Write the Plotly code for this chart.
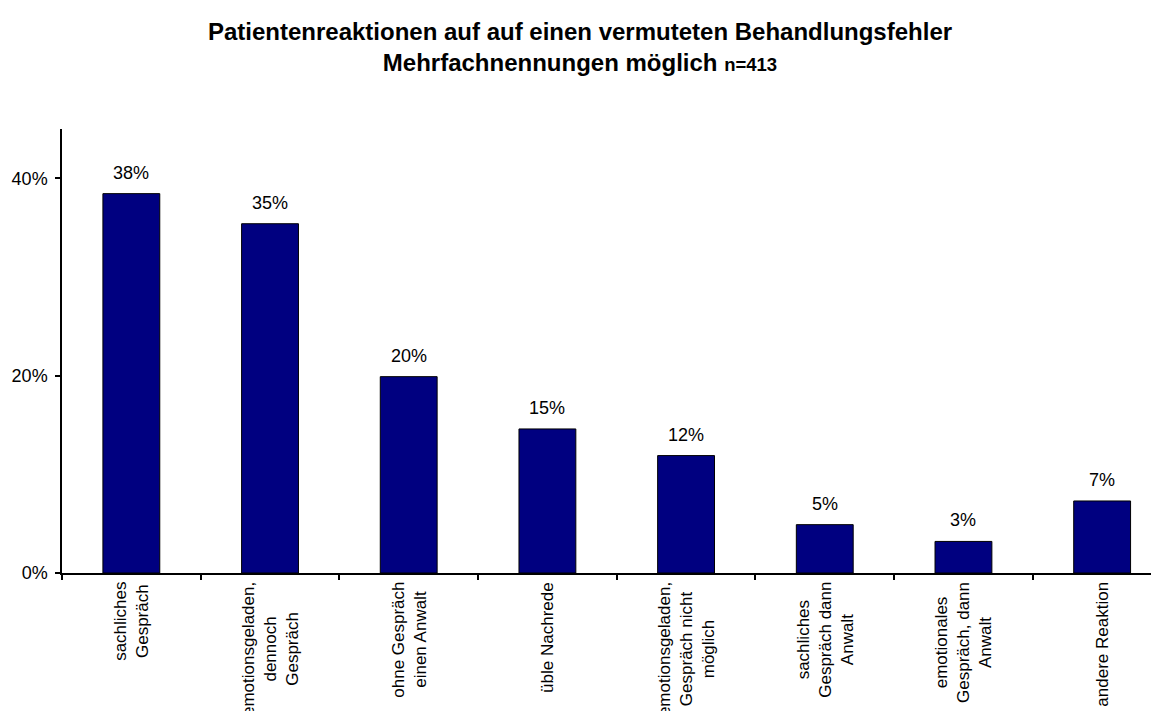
import plotly.graph_objects as go

categories = [
    "sachliches<br>Gespräch",
    "emotionsgeladen,<br>dennoch<br>Gespräch",
    "ohne Gespräch<br>einen Anwalt",
    "üble Nachrede",
    "emotionsgeladen,<br>Gespräch nicht<br>möglich",
    "sachliches<br>Gespräch dann<br>Anwalt",
    "emotionales<br>Gespräch, dann<br>Anwalt",
    "andere Reaktion",
]
values = [0.3845, 0.354, 0.199, 0.146, 0.119, 0.049, 0.032, 0.073]
y_ticks = [0, 0.2, 0.4]
y_tick_labels = ["0%", "20%", "40%"]

FONT = "Liberation Sans, Arial, sans-serif"
x_idx = list(range(len(categories)))

# the page body has an 8px default margin, so the figure is offset by 8px
W, H = 1151, 703

fig = go.Figure(
    go.Bar(
        x=x_idx,
        y=values,
        marker=dict(color="#000080", line=dict(color="black", width=1)),
        width=0.41,
        hoverinfo="skip",
    )
)

annotations = []
for i, v in zip(x_idx, values):
    annotations.append(dict(
        x=i, y=v, xref="x", yref="y", text=f"{v*100:.0f}%",
        showarrow=False, yanchor="middle", yshift=21,
        font=dict(family=FONT, size=18, color="black"),
    ))
for i, c in zip(x_idx, categories):
    annotations.append(dict(
        x=i, y=0, xref="x", yref="paper", text=c,
        showarrow=False, textangle=-90, align="center",
        xanchor="center", yanchor="top", yshift=-7,
        font=dict(family=FONT, size=17, color="black"),
    ))

fig.update_layout(
    width=W, height=H,
    margin=dict(l=54, r=0, t=121, b=138),
    paper_bgcolor="white", plot_bgcolor="white",
    showlegend=False,
    title=dict(
        text="<b>Patientenreaktionen auf auf einen vermuteten Behandlungsfehler<br>"
             "Mehrfachnennungen möglich <span style='font-size:18.5px'>n=413</span></b>",
        x=572 / W, xref="container", xanchor="center",
        y=1 - 32 / H, yref="container", yanchor="top",
        font=dict(family=FONT, size=24, color="black"),
    ),
    annotations=annotations,
)
fig.update_xaxes(
    type="linear", range=[-0.5, 7.41],
    tickmode="array", tickvals=[i - 0.5 for i in x_idx] + [len(categories) - 0.5],
    showticklabels=False,
    ticks="outside", ticklen=5, tickwidth=1.5, tickcolor="black",
    showline=True, linecolor="black", linewidth=1.5,
    showgrid=False, zeroline=False,
)
fig.update_yaxes(
    range=[0, 0.45],
    tickmode="array", tickvals=y_ticks, ticktext=y_tick_labels,
    ticks="outside", ticklen=5, tickwidth=1.5, tickcolor="black",
    ticklabelstandoff=4,
    tickfont=dict(family=FONT, size=18, color="black"),
    showline=True, linecolor="black", linewidth=1.5,
    showgrid=False, zeroline=False,
)

fig.write_html("out.html")
